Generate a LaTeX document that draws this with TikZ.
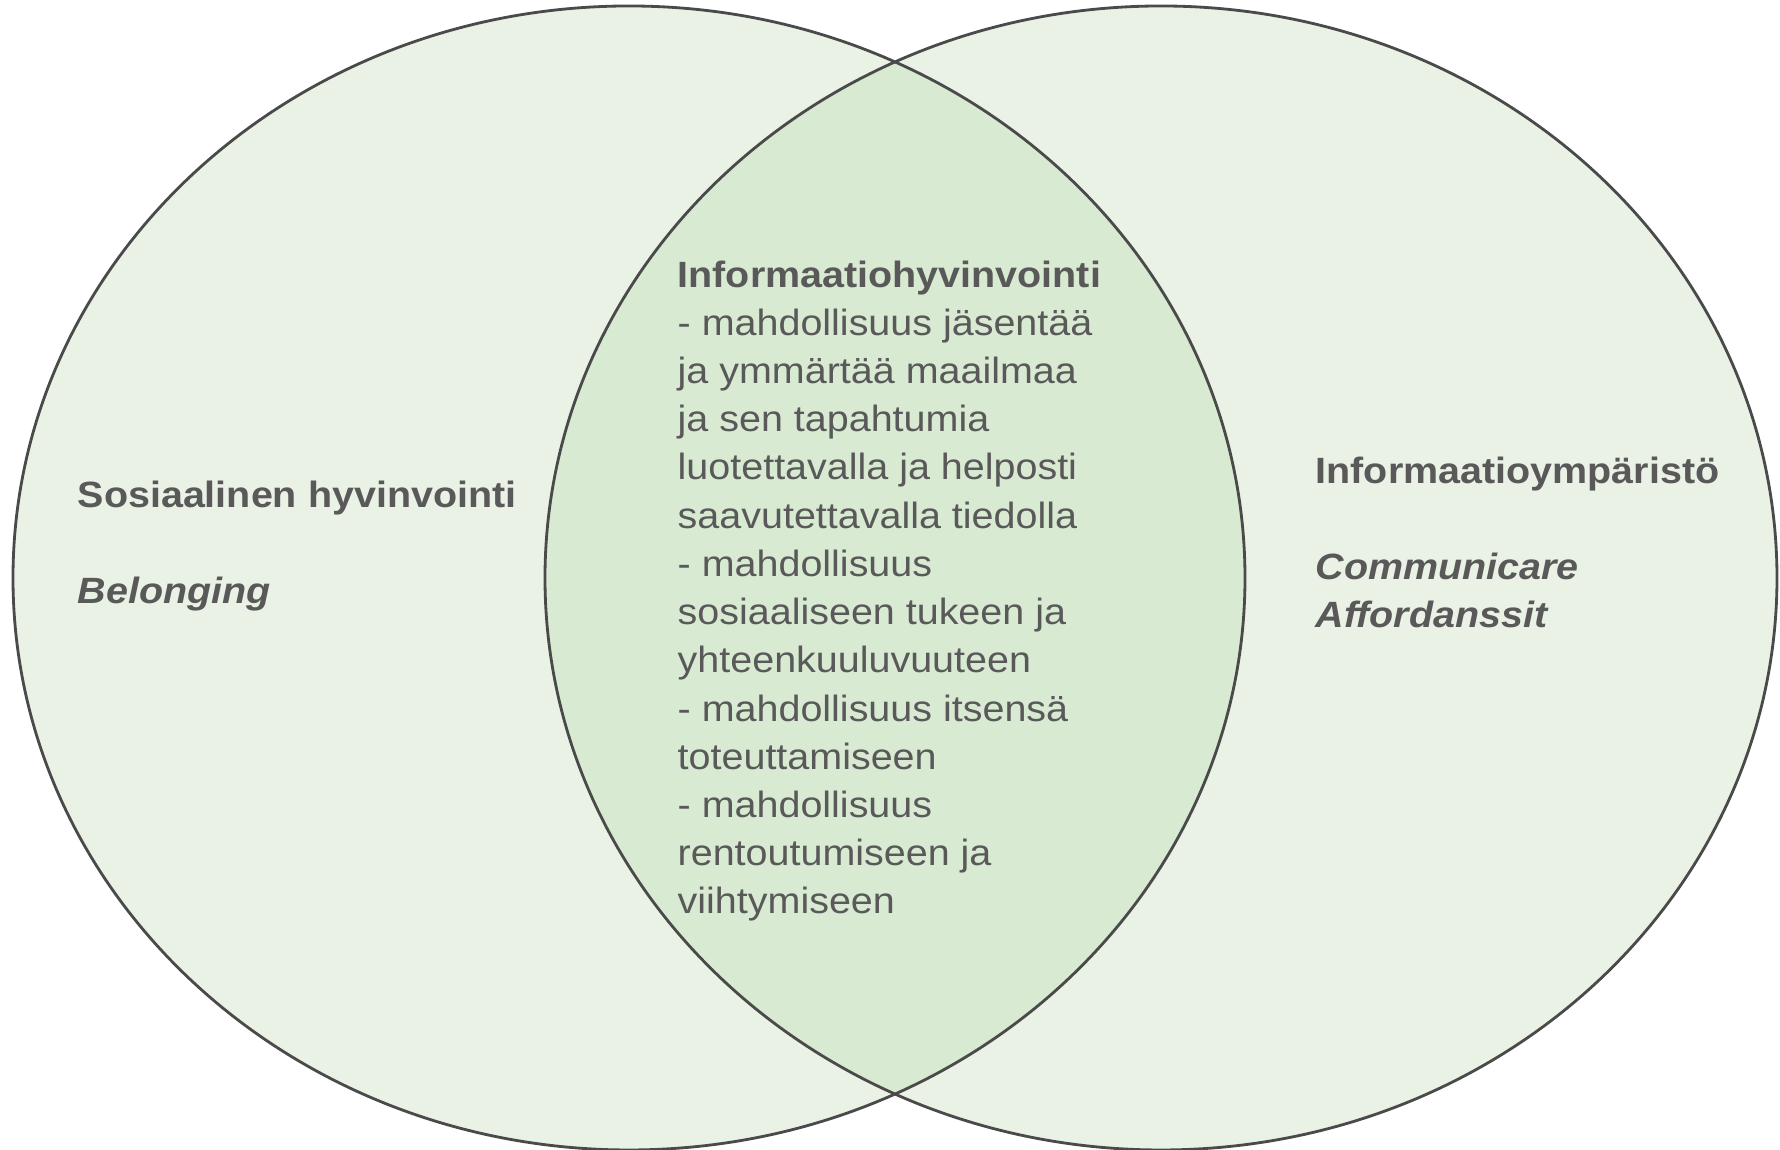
\documentclass[tikz,border=0pt]{standalone}
\usepackage{fontspec}
\setmainfont{Liberation Sans}[FakeStretch=1.08]
\definecolor{outergreen}{HTML}{EAF2E6}
\definecolor{innergreen}{HTML}{D9EAD3}
\definecolor{edgegray}{HTML}{4A4A4A}
\definecolor{textgray}{HTML}{595959}

\begin{document}
\begin{tikzpicture}[
  venn/.style={draw=edgegray, line width=0.8pt},
  vtext/.style={anchor=base west, align=left, inner sep=0pt, text=textgray,
    font=\fontsize{10.4}{13.72}\selectfont}
]
\useasboundingbox (0,0) rectangle (17.8,11.5);
\coordinate (L) at (6.29,5.72);
\coordinate (R) at (11.61,5.72);

\fill[outergreen] (L) ellipse [x radius=6.16, y radius=5.72];
\fill[outergreen] (R) ellipse [x radius=6.16, y radius=5.72];
\begin{scope}
\clip (L) ellipse [x radius=6.16, y radius=5.72];
\fill[innergreen] (R) ellipse [x radius=6.16, y radius=5.72];
\end{scope}
\draw[venn] (L) ellipse [x radius=6.16, y radius=5.72];
\draw[venn] (R) ellipse [x radius=6.16, y radius=5.72];

\node[vtext] (social) at (0.77,5.46) {\bfseries Sosiaalinen hyvinvointi\\[13.72pt]
  \bfseries\itshape Belonging};
\node[vtext] (infowell) at (6.77,2.36) {\bfseries Informaatiohyvinvointi\\
  - mahdollisuus jäsentää\\
  ja ymmärtää maailmaa\\
  ja sen tapahtumia\\
  luotettavalla ja helposti\\
  saavutettavalla tiedolla\\
  - mahdollisuus\\
  sosiaaliseen tukeen ja\\
  yhteenkuuluvuuteen\\
  - mahdollisuus itsensä\\
  toteuttamiseen\\
  - mahdollisuus\\
  rentoutumiseen ja\\
  viihtymiseen};
\node[vtext] (infoenv) at (13.15,5.22) {\bfseries Informaatioympäristö\\[13.72pt]
  \bfseries\itshape Communicare\\
  \bfseries\itshape Affordanssit};
\end{tikzpicture}
\end{document}
